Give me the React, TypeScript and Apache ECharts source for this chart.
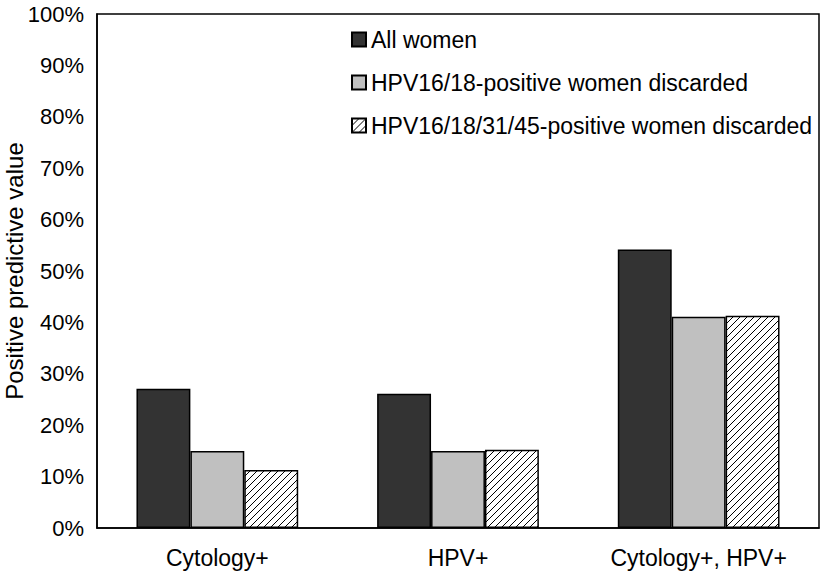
import React, { useEffect, useRef } from "react";
import * as echarts from "echarts";

const categories = ["Cytology+", "HPV+", "Cytology+, HPV+"];
const seriesNames = [
  "All women",
  "HPV16/18-positive women discarded",
  "HPV16/18/31/45-positive women discarded",
];
const allWomen = [27.1, 26.1, 54.2];
const hpv1618 = [15.0, 15.0, 41.1];
const hpv16183145 = [11.3, 15.2, 41.3];

function makeHatch(): HTMLCanvasElement {
  const s = 7;
  const c = document.createElement("canvas");
  c.width = s;
  c.height = s;
  const ctx = c.getContext("2d")!;
  ctx.fillStyle = "#ffffff";
  ctx.fillRect(0, 0, s, s);
  ctx.strokeStyle = "#000000";
  ctx.lineWidth = 1;
  ctx.beginPath();
  ctx.moveTo(0, s);
  ctx.lineTo(s, 0);
  ctx.moveTo(-1, 1);
  ctx.lineTo(1, -1);
  ctx.moveTo(s - 1, s + 1);
  ctx.lineTo(s + 1, s - 1);
  ctx.stroke();
  return c;
}

export default function App() {
  const ref = useRef<HTMLDivElement>(null);
  useEffect(() => {
    document.body.style.margin = "0";
    const chart = echarts.init(ref.current!, null, { renderer: "svg" });
    const font = "'Liberation Sans', Arial, sans-serif";
    const hatch = { image: makeHatch(), repeat: "repeat" } as any;
    const barStyle = (color: any) => ({
      color,
      borderColor: "#000",
      borderWidth: 1.5,
    });
    chart.setOption({
      animation: false,
      backgroundColor: "#fff",
      textStyle: { fontFamily: font },
      grid: {
        left: 97,
        right: 7,
        top: 14,
        bottom: 47,
        outerBoundsMode: "none",
        containLabel: false,
        show: true,
        borderColor: "#000",
        borderWidth: 1.5,
      },
      legend: {
        orient: "vertical",
        left: 351,
        top: 28,
        padding: 0,
        itemWidth: 14,
        itemHeight: 14,
        itemGap: 20,
        icon: "rect",
        textStyle: { fontSize: 23, color: "#000", fontFamily: font },
        data: seriesNames,
      },
      xAxis: {
        type: "category",
        data: categories,
        axisLine: { lineStyle: { color: "#000", width: 1.5 } },
        axisTick: { show: false },
        axisLabel: { color: "#000", fontSize: 23, margin: 18, fontFamily: font },
      },
      yAxis: {
        type: "value",
        min: 0,
        max: 100,
        interval: 10,
        name: "Positive predictive value",
        nameLocation: "middle",
        nameGap: 71,
        nameMoveOverlap: false,
        nameTextStyle: { fontSize: 24, color: "#000", fontFamily: font },
        axisLine: { show: true, lineStyle: { color: "#000", width: 1.5 } },
        axisTick: { show: false },
        splitLine: { show: false },
        axisLabel: {
          color: "#000",
          fontSize: 22,
          margin: 13,
          formatter: "{value}%",
          fontFamily: font,
        },
      },
      series: [
        {
          name: seriesNames[0],
          type: "bar",
          data: allWomen,
          barWidth: "22.4%",
          barGap: "0%",
          itemStyle: barStyle("#333333"),
        },
        {
          name: seriesNames[1],
          type: "bar",
          data: hpv1618,
          barWidth: "22.4%",
          barGap: "0%",
          itemStyle: barStyle("#c0c0c0"),
        },
        {
          name: seriesNames[2],
          type: "bar",
          data: hpv16183145,
          barWidth: "22.4%",
          barGap: "0%",
          itemStyle: barStyle(hatch),
        },
      ],
    });
    return () => chart.dispose();
  }, []);
  return <div ref={ref} style={{ width: 826, height: 575 }} />;
}
